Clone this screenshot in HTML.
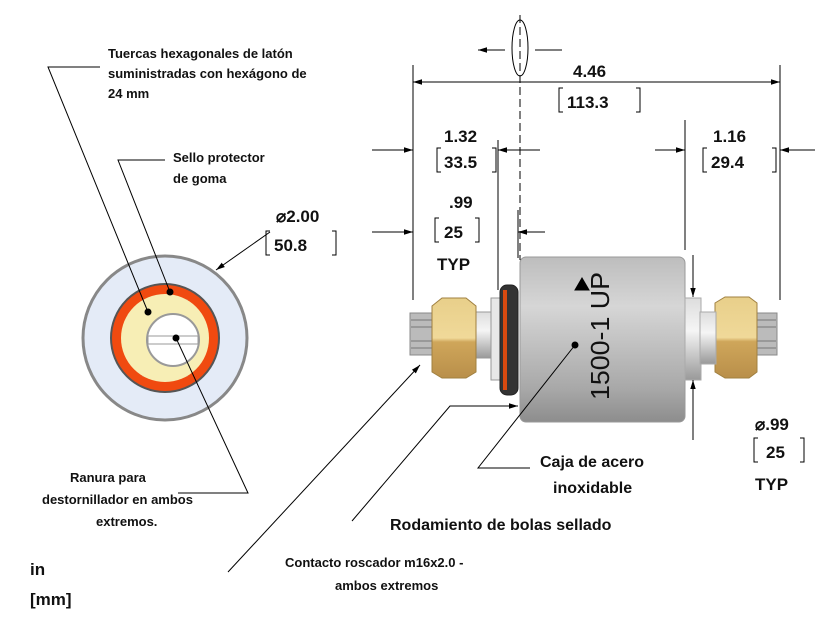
<!DOCTYPE html>
<html><head><meta charset="utf-8"><style>
body{margin:0;background:#fff}
svg text{font-family:"Liberation Sans",sans-serif;font-weight:bold;fill:#111}
</style></head><body>
<svg width="836" height="627" viewBox="0 0 836 627" xmlns="http://www.w3.org/2000/svg">
<defs>
<marker id="a" viewBox="0 0 10 10" refX="10" refY="5" markerWidth="9" markerHeight="9" orient="auto-start-reverse"><path d="M0,2 L10,5 L0,8z" fill="#000"/></marker>
<linearGradient id="cyl" x1="0" y1="0" x2="0" y2="1"><stop offset="0" stop-color="#bdbdbd"/><stop offset=".3" stop-color="#d6d6d6"/><stop offset=".8" stop-color="#a8a8a8"/><stop offset="1" stop-color="#8d8d8d"/></linearGradient>
<linearGradient id="nut" x1="0" y1="0" x2="0" y2="1"><stop offset="0" stop-color="#e8cf8a"/><stop offset=".5" stop-color="#f0d999"/><stop offset=".55" stop-color="#cfa65a"/><stop offset="1" stop-color="#b98f4a"/></linearGradient>
<linearGradient id="sh" x1="0" y1="0" x2="0" y2="1"><stop offset="0" stop-color="#ddd"/><stop offset=".4" stop-color="#f5f5f5"/><stop offset="1" stop-color="#999"/></linearGradient>
</defs>
<g stroke="#000" stroke-width="1" fill="none">
<circle cx="165" cy="338" r="82" fill="#e4ebf7" stroke="#888" stroke-width="3"/>
<circle cx="165" cy="338" r="54" fill="#f04a10" stroke="#555" stroke-width="2"/>
<polygon points="124,338 143,300 187,300 206,338 187,376 143,376" fill="#f7ecb0" stroke="#a99" />
<circle cx="165" cy="338" r="44" fill="#f7eeb5" stroke="none"/>
<circle cx="173" cy="340" r="26" fill="#fff" stroke="#999" stroke-width="2"/>
<rect x="148" y="336" width="50" height="8" fill="#fff" stroke="#999"/>
<path d="M100,67 H48 L148,312"/><circle cx="148" cy="312" r="3" fill="#000"/>
<path d="M165,160 H118 L170,292"/><circle cx="170" cy="292" r="3" fill="#000"/>
<path d="M176,338 L248,493 H178"/><circle cx="176" cy="338" r="3" fill="#000"/>
<path d="M270,232 L216,270" marker-end="url(#a)"/>
<rect x="410" y="313" width="24" height="42" fill="#bbb" stroke="#888"/>
<rect x="755" y="313" width="22" height="42" fill="#bbb" stroke="#888"/>
<path d="M411,320 H433 M411,327 H433 M411,341 H433 M411,348 H433 M756,320 H776 M756,327 H776 M756,341 H776 M756,348 H776" stroke="#777"/>
<rect x="474" y="312" width="22" height="46" fill="url(#sh)" stroke="#999"/>
<polygon points="432,306 442,298 466,298 476,306 476,372 466,378 442,378 432,372" fill="url(#nut)" stroke="#a08040"/>
<polygon points="715,303 725,297 749,297 757,303 757,372 749,378 725,378 715,372" fill="url(#nut)" stroke="#a08040"/>
<rect x="491" y="298" width="10" height="82" fill="#e8e8e8" stroke="#999"/>
<rect x="500" y="285" width="18" height="110" rx="7" fill="#333" stroke="#222"/>
<rect x="503" y="290" width="4" height="100" fill="#d84a10" stroke="none"/>
<rect x="520" y="257" width="165" height="165" rx="6" fill="url(#cyl)" stroke="#999"/>
<rect x="685" y="298" width="16" height="82" fill="url(#sh)" stroke="#aaa"/>
<rect x="700" y="312" width="16" height="52" fill="url(#sh)" stroke="#aaa"/>
<polygon points="575,290 589,290 582,278" fill="#000"/>
<path d="M413,65 V300 M780,65 V300 M498,140 V290 M518,210 V258 M685,120 V250"/>
<path d="M520,15 V260" stroke-dasharray="8,4"/>
<path d="M413,82 H780" marker-start="url(#a)" marker-end="url(#a)"/>
<path d="M372,150 H413" marker-end="url(#a)"/><path d="M540,150 H498" marker-end="url(#a)"/>
<path d="M372,232 H413" marker-end="url(#a)"/><path d="M545,232 H518" marker-end="url(#a)"/>
<path d="M655,150 H685" marker-end="url(#a)"/><path d="M815,150 H780" marker-end="url(#a)"/>
<path d="M693,255 V297" marker-end="url(#a)"/><path d="M693,440 V380" marker-end="url(#a)"/>
<path d="M478,50 H505 M535,50 H562" marker-start="url(#a)"/>
<ellipse cx="520" cy="48" rx="8" ry="28"/>
<path d="M228,572 L420,365" marker-end="url(#a)"/>
<path d="M352,521 L450,406 H518" marker-end="url(#a)"/>
<path d="M530,468 H478 L575,345"/><circle cx="575" cy="345" r="3" fill="#000"/>
<path d="M563,88 h-4 v24 h4 M636,88 h4 v24 h-4 M441,148 h-4 v24 h4 M492,148 h4 v24 h-4 M439,218 h-4 v24 h4 M475,218 h4 v24 h-4 M707,148 h-4 v24 h4 M772,148 h4 v24 h-4 M270,231 h-4 v24 h4 M332,231 h4 v24 h-4 M758,438 h-4 v24 h4 M800,438 h4 v24 h-4"/>
</g>
<text transform="translate(609,336) rotate(-90)" font-size="26" text-anchor="middle" textLength="128" lengthAdjust="spacingAndGlyphs" style="font-weight:normal">1500-1 UP</text>
<g font-size="17">
<text x="573" y="77">4.46</text><text x="567" y="108">113.3</text>
<text x="444" y="142">1.32</text><text x="444" y="168">33.5</text>
<text x="449" y="208">.99</text><text x="444" y="238">25</text><text x="437" y="270">TYP</text>
<text x="713" y="142">1.16</text><text x="711" y="168">29.4</text>
<text x="276" y="222">⌀2.00</text><text x="274" y="251">50.8</text>
<text x="755" y="430">⌀.99</text><text x="766" y="458">25</text><text x="755" y="490">TYP</text>
<text x="30" y="575">in</text><text x="30" y="605">[mm]</text>
</g>
<g font-size="13">
<text x="108" y="58">Tuercas hexagonales de latón</text>
<text x="108" y="78">suministradas con hexágono de</text>
<text x="108" y="98">24 mm</text>
<text x="173" y="162">Sello protector</text><text x="173" y="183">de goma</text>
<text x="70" y="482">Ranura para</text><text x="42" y="504">destornillador en ambos</text><text x="96" y="526">extremos.</text>
<text x="285" y="567">Contacto roscador m16x2.0 -</text><text x="335" y="590">ambos extremos</text>
</g>
<g font-size="16">
<text x="540" y="467">Caja de acero</text><text x="553" y="493">inoxidable</text>
<text x="390" y="530">Rodamiento de bolas sellado</text>
</g>
</svg>
</body></html>
